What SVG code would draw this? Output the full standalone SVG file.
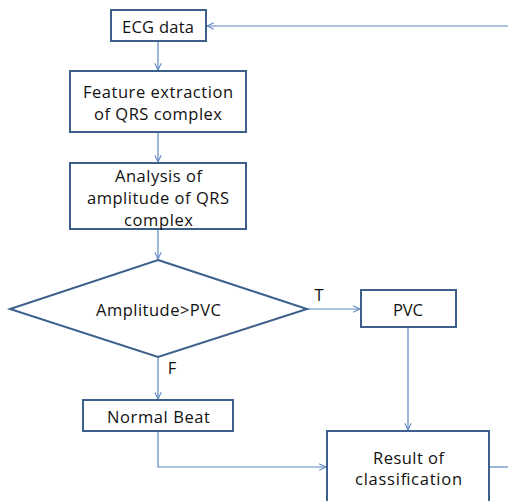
<svg xmlns="http://www.w3.org/2000/svg" width="508" height="501" viewBox="0 0 508 501">
  <style>
    .box { fill: #ffffff; stroke: #3d5f8c; stroke-width: 2; }
    .link { fill: none; stroke: #5b86c0; stroke-width: 1.2; }
    .label { font-family: "Open Sans", "Liberation Sans", sans-serif; font-size: 16.5px; fill: #111111; text-anchor: middle; dominant-baseline: central; }
  </style>
  <defs>
    <marker id="arrow" viewBox="0 0 10 10" refX="9.5" refY="5" markerWidth="8" markerHeight="8" markerUnits="userSpaceOnUse" orient="auto">
      <polyline points="1,1 9.5,5 1,9" fill="none" stroke="#5b86c0" stroke-width="1.3"/>
    </marker>
  </defs>

  <!-- connectors -->
  <g id="connectors">
    <line class="link" x1="508" y1="26" x2="207" y2="26" marker-end="url(#arrow)"/>
    <line class="link" x1="158" y1="41" x2="158" y2="70" marker-end="url(#arrow)"/>
    <line class="link" x1="158" y1="132" x2="158" y2="162" marker-end="url(#arrow)"/>
    <line class="link" x1="158" y1="229" x2="158" y2="259" marker-end="url(#arrow)"/>
    <line class="link" x1="307" y1="309" x2="360" y2="309" marker-end="url(#arrow)"/>
    <line class="link" x1="158" y1="357" x2="158" y2="399" marker-end="url(#arrow)"/>
    <line class="link" x1="408" y1="327" x2="408" y2="430" marker-end="url(#arrow)"/>
    <polyline class="link" points="158,431 158,467 326,467" marker-end="url(#arrow)"/>
    <line class="link" x1="489" y1="467" x2="508" y2="467"/>
    <text class="label" x="319" y="294">T</text>
    <text class="label" x="172" y="367">F</text>
  </g>

  <g id="ecg-data">
    <rect class="box" x="111" y="10" width="95" height="31"/>
    <text class="label" x="158" y="26" textLength="72" lengthAdjust="spacing">ECG data</text>
  </g>

  <g id="feature-extraction">
    <rect class="box" x="70" y="71" width="176" height="61"/>
    <text class="label" x="158" y="91" textLength="150" lengthAdjust="spacing">Feature extraction</text>
    <text class="label" x="158" y="113" textLength="128" lengthAdjust="spacing">of QRS complex</text>
  </g>

  <g id="amplitude-analysis">
    <rect class="box" x="70" y="163" width="176" height="66"/>
    <text class="label" x="158.5" y="175" textLength="87" lengthAdjust="spacing">Analysis of</text>
    <text class="label" x="158" y="197" textLength="142" lengthAdjust="spacing">amplitude of QRS</text>
    <text class="label" x="158.5" y="219" textLength="69" lengthAdjust="spacing">complex</text>
  </g>

  <g id="decision">
    <polygon class="box" points="158,260 307,309 158,357 10,309"/>
    <text class="label" x="158.5" y="309" textLength="125" lengthAdjust="spacing">Amplitude&gt;PVC</text>
  </g>

  <g id="pvc">
    <rect class="box" x="361" y="290" width="95" height="37"/>
    <text class="label" x="408" y="309" textLength="30" lengthAdjust="spacing">PVC</text>
  </g>

  <g id="normal-beat">
    <rect class="box" x="83" y="400" width="150" height="31"/>
    <text class="label" x="158.5" y="416" textLength="103" lengthAdjust="spacing">Normal Beat</text>
  </g>

  <g id="result">
    <rect class="box" x="327" y="431" width="162" height="80"/>
    <text class="label" x="408.5" y="457" textLength="71" lengthAdjust="spacing">Result of</text>
    <text class="label" x="408.5" y="478" textLength="107" lengthAdjust="spacing">classification</text>
  </g>
</svg>
